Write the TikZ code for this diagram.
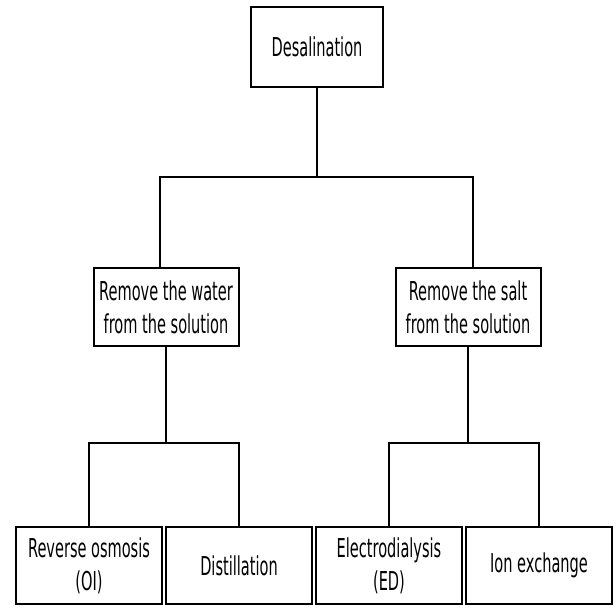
\documentclass[tikz,border=0pt]{standalone}
\usepackage{fontspec}
\setmainfont{DejaVu Sans}[FakeStretch=0.56]
\usetikzlibrary{positioning}

\begin{document}
\begin{tikzpicture}[-,x=1pt,y=1pt,
  box/.style={rectangle,draw,line width=2pt,outer sep=0pt,inner sep=2pt,align=center,
    font=\fontsize{26}{33}\selectfont},
  top node/.style={box,minimum width=132pt,minimum height=80pt},
  mid node/.style={box,minimum width=145pt,minimum height=78pt},
  leaf node/.style={box,minimum width=146pt,minimum height=77pt},
  stem/.style={line width=1.6pt},
  bar/.style={line width=2.6pt,line cap=rect}]
  \useasboundingbox (0,0) rectangle (616,-608);
  \node[top node] (desal) at (317,-47) {Desalination};
  \node[mid node] (water) at (166,-307) {Remove the water\\from the solution};
  \node[mid node] (salt) at (468,-307) {Remove the salt\\from the solution};
  \node[leaf node] (ro) at (89,-565.5) {Reverse osmosis\\(OI)};
  \node[leaf node] (dist) [right=4pt of ro] {Distillation};
  \node[leaf node] (ed) [right=4pt of dist] {Electrodialysis\\(ED)};
  \node[leaf node] (ion) [right=4pt of ed] {Ion exchange};

  % top level
  \coordinate (t0) at (desal.south |- 0,-177);
  \coordinate (t1) at ([xshift=-6pt]water.north |- 0,-177);
  \coordinate (t2) at ([xshift=5pt]salt.north |- 0,-177);
  \draw[stem] (desal) -- (t0);
  \draw[stem] (t1) -- ([xshift=-6pt]water.north);
  \draw[stem] (t2) -- ([xshift=5pt]salt.north);
  \draw[bar] (t1) -- (t2);

  % water branch
  \coordinate (w0) at (water.south |- 0,-443);
  \coordinate (w1) at (ro.north |- 0,-443);
  \coordinate (w2) at (dist.north |- 0,-443);
  \draw[stem] (water) -- (w0);
  \draw[stem] (w1) -- (ro);
  \draw[stem] (w2) -- (dist);
  \draw[bar] (w1) -- (w2);

  % salt branch
  \coordinate (s0) at (salt.south |- 0,-443);
  \coordinate (s1) at (ed.north |- 0,-443);
  \coordinate (s2) at (ion.north |- 0,-443);
  \draw[stem] (salt) -- (s0);
  \draw[stem] (s1) -- (ed);
  \draw[stem] (s2) -- (ion);
  \draw[bar] (s1) -- (s2);
\end{tikzpicture}
\end{document}
